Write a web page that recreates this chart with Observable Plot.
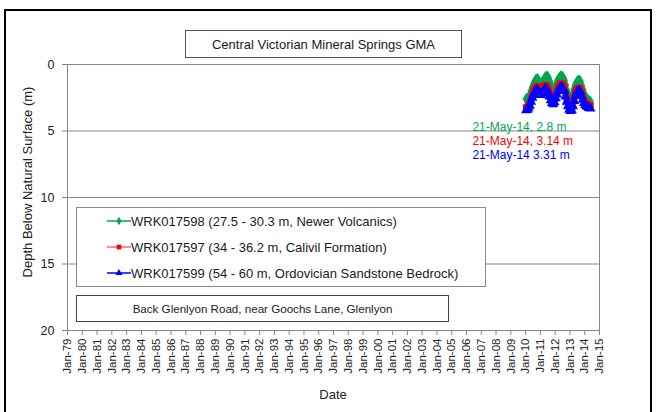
<!DOCTYPE html>
<html><head><meta charset="utf-8">
<script src="https://cdn.jsdelivr.net/npm/d3@7"></script>
<script src="https://cdn.jsdelivr.net/npm/@observablehq/plot@0.6"></script>
<style>
body{margin:0;background:#fff;font-family:"Liberation Sans",Arial,sans-serif;}
#wrap{position:relative;width:656px;height:412px;overflow:hidden;background:#fff;}
#wrap svg.plot{position:absolute;left:0;top:0;}
.abs{position:absolute;box-sizing:border-box;}
.box{background:#fff;display:flex;align-items:center;justify-content:center;color:#1a1a1a;}
</style></head><body><div id="wrap"></div>
<script>
// ---- data ----
const months = ["2010-01-15","2010-02-15","2010-03-15","2010-04-15","2010-05-15","2010-06-15","2010-07-15","2010-08-15","2010-09-15","2010-10-15","2010-11-15","2010-12-15",
"2011-01-15","2011-02-15","2011-03-15","2011-04-15","2011-05-15","2011-06-15","2011-07-15","2011-08-15","2011-09-15","2011-10-15","2011-11-15","2011-12-15",
"2012-01-15","2012-02-15","2012-03-15","2012-04-15","2012-05-15","2012-06-15","2012-07-15","2012-08-15","2012-09-15","2012-10-15","2012-11-15","2012-12-15",
"2013-01-15","2013-02-15","2013-03-15","2013-04-15","2013-05-15","2013-06-15","2013-07-15","2013-08-15","2013-09-15","2013-10-15","2013-11-15","2013-12-15",
"2014-01-15","2014-02-15","2014-03-15","2014-04-15","2014-05-21"];
const greenDepth = [2.6,2.6,2.5,2.3,2.0,1.75,1.5,1.3,1.15,1.1,1.2,1.4,
1.5,1.4,1.2,1.05,0.95,0.9,1.0,1.25,1.55,1.8,1.95,1.85,
1.6,1.35,1.15,1.0,0.9,0.9,1.0,1.2,1.55,1.95,2.25,2.45,
2.55,2.5,2.2,1.85,1.55,1.35,1.25,1.2,1.3,1.6,1.9,2.2,
2.4,2.55,2.65,2.75,2.8];
const redDepth = [3.25,3.2,3.1,2.9,2.6,2.3,2.05,1.85,1.7,1.65,1.75,1.95,
2.05,1.95,1.75,1.6,1.55,1.65,1.85,2.15,2.45,2.65,2.75,2.6,
2.3,2.0,1.75,1.55,1.45,1.45,1.55,1.75,2.15,2.55,2.9,3.15,
3.25,3.2,2.9,2.5,2.1,1.9,1.8,1.75,1.85,2.15,2.45,2.7,
2.85,2.95,3.0,3.08,3.14];
const blueDepth = [3.45,3.4,3.3,3.1,2.8,2.5,2.25,2.05,1.95,1.9,2.0,2.2,
2.3,2.2,2.0,1.85,1.8,1.9,2.1,2.4,2.7,2.9,3.0,2.85,
2.55,2.25,2.0,1.8,1.7,1.7,1.8,2.0,2.4,2.8,3.15,3.4,
3.5,3.45,3.15,2.75,2.35,2.1,2.0,1.95,2.05,2.35,2.65,2.9,
3.05,3.15,3.2,3.27,3.31];
const seriesNames = ["WRK017598 (27.5 - 30.3 m, Newer Volcanics)","WRK017597 (34 - 36.2 m, Calivil Formation)","WRK017599 (54 - 60 m, Ordovician Sandstone Bedrock)"];
const seriesColors = ["#00a650","#ff0000","#0000ff"];
const seriesSymbols = ["diamond","square","triangle"];
const annotations = ["21-May-14, 2.8 m","21-May-14, 3.14 m","21-May-14 3.31 m"];
const tickLabels = ["Jan-79","Jan-80","Jan-81","Jan-82","Jan-83","Jan-84","Jan-85","Jan-86","Jan-87","Jan-88","Jan-89","Jan-90","Jan-91","Jan-92","Jan-93","Jan-94","Jan-95","Jan-96","Jan-97","Jan-98","Jan-99","Jan-00","Jan-01","Jan-02","Jan-03","Jan-04","Jan-05","Jan-06","Jan-07","Jan-08","Jan-09","Jan-10","Jan-11","Jan-12","Jan-13","Jan-14","Jan-15"];
const yTicks = [0,5,10,15,20];
const gridDepths = [5,10,15];
const titleText = "Central Victorian Mineral Springs GMA";
const captionText = "Back Glenlyon Road, near Goochs Lane, Glenlyon";
const xTitle = "Date";
const yTitle = "Depth Below Natural Surface (m)";

// ---- build ----
const parseTick = d3.utcParse("%b-%y");
const tickDates = tickLabels.map(parseTick);
const tickMap = new Map(tickDates.map((d,i)=>[+d, tickLabels[i]]));
const dates = months.map(s => d3.isoParse(s + "T00:00:00Z"));
const allSeries = [greenDepth, redDepth, blueDepth];
const rows = allSeries.map((vals,i)=>vals.map((v,j)=>({date:dates[j], depth:v, s:i})));
const lastDate = dates[dates.length-1];
const annRows = annotations.map((t,i)=>({label:t, depth:allSeries[i][allSeries[i].length-1], s:i}));
const annDy = [25, 35, 47];

const marks = [
  Plot.ruleY(gridDepths, {stroke:"#868686", strokeWidth:1}),
  Plot.frame({stroke:"#868686", strokeWidth:1}),
  Plot.axisX({ticks: tickDates, tickFormat: d => tickMap.get(+d), tickRotate:-90, tickSize:5, tickPadding:3, label:null, fontSize:11.5, stroke:"#868686", fill:"#222"}),
  Plot.axisY({ticks: yTicks, tickSize:5, tickPadding:8, label:null, fontSize:12.5, stroke:"#868686", fill:"#222"})
];
rows.forEach((r,i)=>{
  marks.push(Plot.line(r, {x:"date", y:"depth", stroke:seriesColors[i], strokeWidth:1.5}));
  marks.push(Plot.dot(r, {x:"date", y:"depth", symbol:()=>seriesSymbols[i], fill:seriesColors[i], stroke:"none", r:3.8}));
});
annRows.forEach((a,i)=>{
  marks.push(Plot.text([a], {x:()=>lastDate, y:"depth", text:"label", fill:seriesColors[i], textAnchor:"start", dx:-118, dy:annDy[i], fontSize:12}));
});

const chart = Plot.plot({
  width:656, height:412,
  marginLeft:67, marginRight:57, marginTop:64, marginBottom:82,
  style:{fontFamily:"'Liberation Sans', Arial, sans-serif", background:"transparent", overflow:"visible"},
  x:{type:"utc", domain:[tickDates[0], tickDates[tickDates.length-1]]},
  y:{domain:[0,20], reverse:true},
  symbol:{type:"identity"},
  marks
});
chart.classList.add("plot");
const wrap = document.getElementById("wrap");
wrap.appendChild(chart);

function addDiv(css, html, cls){
  const d = document.createElement("div");
  d.className = "abs " + (cls||"");
  d.style.cssText += css;
  if (html!=null) d.innerHTML = html;
  wrap.appendChild(d);
  return d;
}
// outer frame
addDiv("left:4px;top:9px;width:648px;height:430px;border:2px solid #000;");
// title box
addDiv("left:185px;top:30px;width:277px;height:28px;border:1px solid #555;font-size:13px;", titleText, "box");
// caption box
addDiv("left:76px;top:295px;width:373px;height:27px;border:1px solid #444;font-size:11.6px;", captionText, "box");
// axis titles
addDiv("left:0;top:387px;width:656px;font-size:13px;color:#222;", "<span style='position:absolute;left:333px;transform:translateX(-50%);white-space:nowrap'>"+xTitle+"</span>");
addDiv("left:27px;top:182px;width:0;height:0;", "<div style='position:absolute;transform:translate(-50%,-50%) rotate(-90deg);white-space:nowrap;font-size:13px;color:#222'>"+yTitle+"</div>");
// legend
const leg = addDiv("left:76px;top:207px;width:410px;height:80px;border:1px solid #8a8a8a;background:#fff;");
const rowY = [13, 39, 65];
seriesNames.forEach((name,i)=>{
  const row = document.createElement("div");
  row.style.cssText = "position:absolute;left:30px;top:"+(rowY[i]-8)+"px;height:16px;display:flex;align-items:center;font-size:13px;color:#1a1a1a;white-space:nowrap;";
  const sw = d3.create("svg").attr("width",24).attr("height",16);
  sw.append("line").attr("x1",0).attr("x2",24).attr("y1",8).attr("y2",8).attr("stroke",seriesColors[i]).attr("stroke-width",1.5).attr("opacity", i===1?0.6:1);
  const sym = {diamond:d3.symbolDiamond, square:d3.symbolSquare, triangle:d3.symbolTriangle}[seriesSymbols[i]];
  sw.append("path").attr("d", d3.symbol(sym, 22)()).attr("transform","translate(12,8)").attr("fill",seriesColors[i]);
  row.appendChild(sw.node());
  const t = document.createElement("span"); t.textContent = name;
  row.appendChild(t);
  leg.appendChild(row);
});
</script></body></html>
